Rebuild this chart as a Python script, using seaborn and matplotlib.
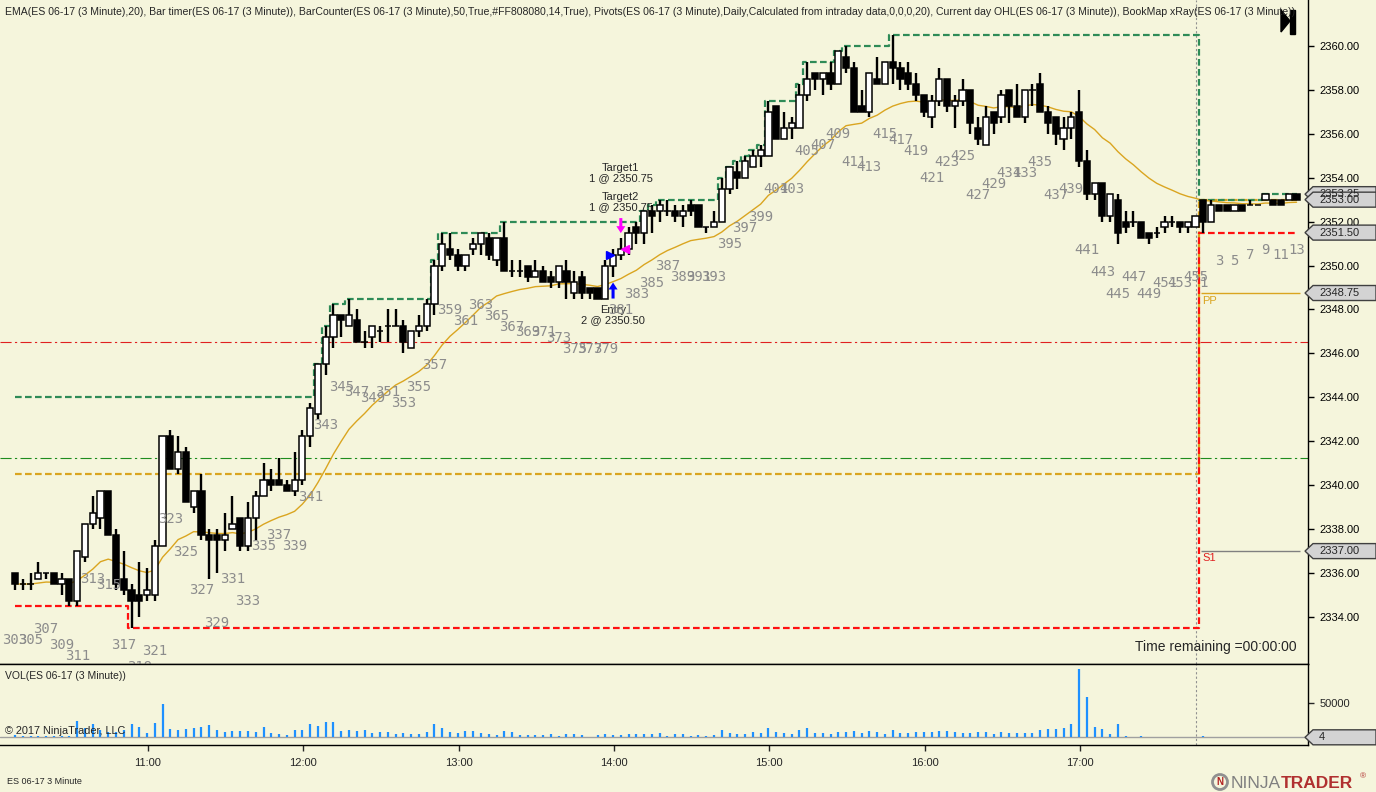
import numpy as np
import pandas as pd
import matplotlib
matplotlib.use("Agg")
import matplotlib.pyplot as plt
from matplotlib.patches import Polygon, Rectangle, Ellipse
import seaborn as sns

# ES 06-17, 3 minute bars: old session bars 303..455, then new session bars 1..13
opens = [
    2336.0, 2335.5, 2335.5, 2335.75, 2336.0, 2336.0, 2335.5, 2335.75, 2334.75, 2336.75,
    2338.25, 2338.5, 2339.75, 2337.75, 2335.75, 2335.25, 2335.0, 2335.0, 2335.0, 2337.25,
    2342.25, 2340.75, 2341.5, 2339.0, 2339.75, 2337.75, 2337.75, 2337.5, 2338.0, 2338.5,
    2337.25, 2338.5, 2339.5, 2340.25, 2340.25, 2340.0, 2339.75, 2340.25, 2342.25, 2343.25,
    2345.5, 2346.75, 2347.75, 2347.25, 2347.5, 2346.5, 2346.75, 2347.0, 2347.25, 2347.25,
    2347.25, 2346.25, 2347.0, 2347.25, 2348.25, 2350.0, 2350.75, 2350.5, 2350.0, 2350.75,
    2351.0, 2351.25, 2350.25, 2351.25, 2349.75, 2349.75, 2350.0, 2349.5, 2349.75, 2349.5,
    2349.25, 2349.75, 2348.75, 2349.5, 2349.0, 2349.0, 2348.5, 2350.0, 2350.5, 2350.75,
    2351.75, 2351.5, 2352.5, 2352.5, 2352.5, 2352.5, 2352.25, 2352.75, 2352.75, 2351.75,
    2351.75, 2352.0, 2353.5, 2354.25, 2354.0, 2354.5, 2355.0, 2355.0, 2357.25, 2355.75,
    2356.25, 2356.25, 2357.75, 2358.75, 2358.5, 2358.75, 2358.25, 2359.5, 2359.0, 2357.25,
    2357.0, 2358.5, 2358.25, 2359.25, 2359.0, 2358.75, 2358.25, 2357.75, 2356.75, 2357.5,
    2358.5, 2357.25, 2357.5, 2358.0, 2356.25, 2355.5, 2357.0, 2356.75, 2358.0, 2357.25,
    2356.75, 2358.0, 2358.25, 2357.0, 2356.75, 2355.75, 2356.25, 2357.0, 2354.75, 2353.25,
    2353.75, 2352.25, 2353.0, 2352.0, 2352.0, 2352.0, 2351.5, 2351.5, 2351.75, 2352.0,
    2352.0, 2351.75, 2351.75, 2353.0, 2352.0, 2352.75, 2352.75, 2352.5, 2352.75, 2352.75,
    2352.75, 2353.0, 2353.0, 2353.0, 2353.0, 2353.25,
]
highs = [
    2336.0, 2335.75, 2336.0, 2336.5, 2336.0, 2336.0, 2336.0, 2335.75, 2337.0, 2338.25,
    2339.5, 2339.75, 2339.75, 2338.0, 2337.0, 2335.5, 2336.5, 2336.25, 2337.5, 2342.25,
    2342.5, 2342.25, 2341.75, 2339.75, 2340.5, 2338.0, 2338.0, 2338.75, 2339.5, 2338.5,
    2339.25, 2339.75, 2341.0, 2340.75, 2341.25, 2340.25, 2341.5, 2342.5, 2343.75, 2345.5,
    2347.25, 2348.25, 2347.75, 2348.5, 2348.0, 2347.0, 2347.25, 2347.25, 2348.0, 2348.0,
    2347.5, 2347.0, 2347.75, 2348.5, 2350.25, 2351.5, 2351.5, 2350.75, 2350.5, 2351.25,
    2351.5, 2351.5, 2351.25, 2352.0, 2350.25, 2350.25, 2350.0, 2350.25, 2350.0, 2349.75,
    2350.0, 2350.25, 2349.75, 2349.75, 2349.0, 2349.0, 2350.25, 2350.75, 2351.25, 2351.75,
    2352.0, 2352.5, 2352.75, 2353.0, 2353.0, 2352.75, 2352.75, 2353.0, 2352.75, 2351.75,
    2352.5, 2354.0, 2354.5, 2354.75, 2355.0, 2355.25, 2355.5, 2357.5, 2357.25, 2357.0,
    2356.75, 2358.25, 2359.25, 2358.75, 2358.75, 2359.25, 2359.75, 2360.0, 2359.25, 2358.0,
    2358.75, 2359.5, 2359.25, 2360.5, 2359.25, 2359.25, 2358.75, 2357.75, 2357.75, 2359.0,
    2358.5, 2357.75, 2358.5, 2358.0, 2356.75, 2357.25, 2357.0, 2358.0, 2358.0, 2358.25,
    2358.0, 2358.25, 2358.75, 2357.25, 2356.75, 2356.75, 2357.0, 2358.0, 2355.25, 2353.75,
    2353.75, 2353.25, 2353.25, 2352.5, 2352.5, 2352.0, 2351.5, 2351.75, 2352.25, 2352.25,
    2352.0, 2352.0, 2352.25, 2353.0, 2353.0, 2352.75, 2352.75, 2352.75, 2352.75, 2353.0,
    2352.75, 2353.25, 2353.0, 2353.0, 2353.25, 2353.25,
]
lows = [
    2335.25, 2335.25, 2335.25, 2335.75, 2335.75, 2335.5, 2335.0, 2334.5, 2334.5, 2336.5,
    2338.0, 2338.0, 2337.75, 2335.25, 2335.0, 2333.5, 2334.0, 2334.75, 2334.75, 2337.25,
    2340.75, 2340.5, 2339.25, 2338.75, 2337.5, 2335.75, 2336.0, 2337.0, 2338.0, 2337.0,
    2337.0, 2337.5, 2339.5, 2339.75, 2340.0, 2339.75, 2339.5, 2340.0, 2341.75, 2343.0,
    2345.0, 2346.25, 2346.75, 2347.25, 2346.5, 2346.25, 2346.25, 2346.5, 2346.5, 2347.25,
    2346.0, 2346.25, 2346.75, 2347.0, 2347.75, 2349.75, 2350.25, 2349.75, 2349.75, 2350.5,
    2350.5, 2350.25, 2350.0, 2349.75, 2349.5, 2349.5, 2349.25, 2349.5, 2349.25, 2349.0,
    2349.0, 2348.5, 2348.5, 2348.5, 2348.5, 2348.5, 2348.5, 2349.5, 2350.25, 2350.5,
    2351.0, 2351.0, 2351.5, 2352.0, 2352.25, 2352.0, 2351.75, 2352.25, 2351.75, 2351.5,
    2351.75, 2352.0, 2353.25, 2353.5, 2354.0, 2354.5, 2354.5, 2355.0, 2355.75, 2355.75,
    2355.75, 2356.25, 2357.5, 2358.0, 2357.75, 2358.0, 2358.25, 2358.75, 2357.0, 2357.0,
    2356.75, 2358.25, 2358.25, 2358.25, 2358.0, 2358.0, 2357.5, 2356.75, 2356.25, 2357.25,
    2357.0, 2356.25, 2357.25, 2356.0, 2355.5, 2355.5, 2356.0, 2356.5, 2356.5, 2356.75,
    2356.5, 2357.25, 2357.0, 2356.0, 2355.5, 2355.25, 2355.75, 2354.5, 2353.0, 2353.0,
    2352.0, 2352.0, 2351.0, 2351.5, 2351.75, 2351.25, 2351.0, 2351.25, 2351.5, 2351.75,
    2351.5, 2351.5, 2351.75, 2351.5, 2352.0, 2352.5, 2352.5, 2352.5, 2352.5, 2352.75,
    2352.75, 2353.0, 2352.75, 2352.75, 2353.0, 2353.0,
]
closes = [
    2335.5, 2335.5, 2335.5, 2336.0, 2336.0, 2335.5, 2335.75, 2334.75, 2337.0, 2338.25,
    2338.75, 2339.75, 2337.75, 2335.5, 2335.25, 2334.75, 2334.75, 2335.25, 2337.25, 2342.25,
    2340.75, 2341.5, 2339.25, 2339.75, 2337.75, 2337.5, 2337.5, 2337.75, 2338.25, 2337.25,
    2338.5, 2339.5, 2340.25, 2340.0, 2340.0, 2339.75, 2340.25, 2342.25, 2343.5, 2345.5,
    2346.75, 2347.75, 2347.5, 2347.75, 2346.5, 2346.5, 2347.25, 2347.0, 2347.25, 2347.25,
    2346.5, 2347.0, 2347.25, 2348.25, 2350.0, 2351.0, 2350.5, 2350.0, 2350.5, 2351.0,
    2351.5, 2350.5, 2351.25, 2349.75, 2349.75, 2349.75, 2349.5, 2349.75, 2349.25, 2349.25,
    2350.0, 2349.25, 2349.25, 2348.75, 2348.75, 2348.5, 2350.0, 2350.5, 2350.75, 2351.5,
    2351.5, 2352.5, 2352.25, 2352.75, 2352.5, 2352.25, 2352.5, 2352.5, 2351.75, 2351.75,
    2352.0, 2353.5, 2354.5, 2354.0, 2354.75, 2355.0, 2355.25, 2357.0, 2355.75, 2356.25,
    2356.5, 2357.75, 2358.5, 2358.5, 2358.75, 2358.25, 2359.75, 2359.0, 2357.0, 2357.0,
    2358.75, 2358.25, 2359.25, 2359.0, 2358.5, 2358.25, 2357.75, 2357.0, 2357.5, 2358.5,
    2357.25, 2357.5, 2358.0, 2356.5, 2355.75, 2356.75, 2356.5, 2357.75, 2357.25, 2356.75,
    2358.0, 2358.0, 2357.0, 2356.5, 2356.0, 2356.25, 2356.75, 2354.75, 2353.25, 2353.75,
    2352.25, 2353.25, 2351.5, 2351.75, 2352.0, 2351.25, 2351.25, 2351.5, 2352.0, 2352.0,
    2351.75, 2352.0, 2352.25, 2352.0, 2352.75, 2352.5, 2352.5, 2352.75, 2352.5, 2352.75,
    2352.75, 2353.25, 2352.75, 2352.75, 2353.25, 2353.0,
]
volumes = [
    2900, 1500, 1500, 2000, 1500, 2000, 2500, 2000, 24000, 13200,
    19600, 10800, 8300, 8300, 10800, 19600, 15700, 6900, 21600, 49000,
    12300, 10800, 12700, 14200, 14700, 18100, 10800, 8300, 9800, 9300,
    9300, 7800, 15200, 6400, 5400, 2900, 10800, 10800, 19600, 16700,
    22500, 22500, 9800, 10800, 8800, 10800, 6900, 7800, 8300, 4900,
    5900, 5400, 4900, 8300, 19600, 13700, 8300, 6900, 9300, 9300,
    6900, 4900, 3900, 9300, 8300, 3900, 3900, 3900, 3900, 4900,
    2000, 4900, 4900, 3900, 1000, 3400, 4900, 3400, 3900, 4900,
    4900, 4900, 4900, 6900, 2000, 4900, 4900, 2500, 3400, 2000,
    3400, 10800, 6900, 4900, 4900, 7800, 6900, 13700, 7800, 6900,
    4900, 10800, 13700, 6900, 6900, 4900, 7800, 7800, 9300, 6900,
    9300, 7800, 4900, 10800, 5900, 6900, 7800, 7800, 7800, 9300,
    9300, 7800, 5900, 6900, 7800, 7800, 4900, 7800, 6900, 6900,
    6900, 6900, 10800, 12700, 12700, 13700, 19600, 100500, 59300, 15200,
    12300, 4900, 19600, 1500, 1000, 1500, 500, 300, 300, 300,
    300, 300, 300, 2000, 500, 100, 100, 100, 100, 100,
    100, 500, 50, 50, 50, 4,
]
bar_numbers = list(range(303, 456)) + list(range(1, 14))
time_labels = ["11:00", "12:00", "13:00", "14:00", "15:00", "16:00", "17:00"]

new_session_start = 153      # index of bar 1 of the new session
prev_day_high = 2344.0       # day high / low / open before the first visible bar
prev_day_low = 2334.5
prev_day_open = 2340.5
pivot_pp = 2348.75
pivot_s1 = 2337.00
level_green = 2341.25
level_red = 2346.50
entry_bar, entry_price, entry_qty = 77, 2350.50, 2
exit_bar, exit_price = 78, 2350.75

o, h, l, c = (np.array(v) for v in (opens, highs, lows, closes))
vol = np.array(volumes)
n = len(o)
idx = np.arange(n)
S = new_session_start

ema = pd.Series(c).ewm(span=20, adjust=False).mean().values
day_high = np.r_[np.maximum.accumulate(np.r_[prev_day_high, h[:S]])[1:], np.maximum.accumulate(h[S:])]
day_low = np.r_[np.minimum.accumulate(np.r_[prev_day_low, l[:S]])[1:], np.minimum.accumulate(l[S:])]
day_open = np.where(idx < S, prev_day_open, o[S])

BG = "#F5F5DC"
W, H = 1376, 792
sns.set_theme(style="white")
plt.rcParams["font.family"] = ["Liberation Sans", "DejaVu Sans"]


def fx(px):
    return px / W


def fy(py):
    return 1 - py / H


fig = plt.figure(figsize=(W / 100, H / 100), dpi=100, facecolor=BG)
ax = fig.add_axes([0, fy(664), fx(1308), 664 / H], facecolor=BG)
axv = fig.add_axes([0, fy(745), fx(1308), 81 / H], facecolor=BG)

bar_px = 7.767
x_lo, x_hi = -15 / bar_px, (1308 - 15) / bar_px
y_lo, y_hi = 2331.86, 2362.09
ppx = (y_hi - y_lo) / 664   # price per pixel

# reference levels
ax.axhline(level_green, color="#1E8C1E", lw=0.8, ls=(0, (10, 3, 2, 3)), zorder=1)
ax.axhline(level_red, color="#E02020", lw=0.8, ls=(0, (10, 3, 2, 3)), zorder=1)

# current day OHL step lines
sns.lineplot(x=idx, y=day_open, ax=ax, color="#DAA520", lw=1.6, ls=(0, (3, 1.5)),
             drawstyle="steps-mid", zorder=2)
sns.lineplot(x=idx, y=day_low, ax=ax, color="#FF1010", lw=1.6, ls=(0, (3, 1.5)),
             drawstyle="steps-mid", zorder=2)
sns.lineplot(x=idx, y=day_high, ax=ax, color="#2E8B57", lw=1.6, ls=(0, (3, 1.5)),
             drawstyle="steps-mid", zorder=2)
sns.lineplot(x=idx, y=ema, ax=ax, color="#DAA520", lw=1.0, zorder=2)

# pivots for the new session
ax.hlines([pivot_pp, pivot_s1], S - 0.3, n - 0.5, colors=["#DAA520", "#808080"], lw=1, zorder=2)
ax.annotate("PP", (S - 0.3, pivot_pp), xytext=(1, -6), textcoords="offset points",
            color="#DAA520", fontsize=8, va="center")
ax.annotate("S1", (S - 0.3, pivot_s1), xytext=(1, -5), textcoords="offset points",
            color="#E02020", fontsize=8, va="center")

# session break
for a in (ax, axv):
    a.axvline(S - 0.9, color="#909090", lw=0.8, ls=(0, (2, 2)), zorder=1)

# candles
ax.vlines(idx, l, h, color="black", lw=1.7, zorder=3)
ax.bar(idx, np.abs(c - o), bottom=np.minimum(o, c), width=0.8,
       color=np.where(c > o, "white", "black"), edgecolor="black", linewidth=1.1, zorder=4)

# bar counter
for i in range(n):
    if bar_numbers[i] % 2 == 1:
        ax.annotate(str(bar_numbers[i]), (i, l[i]), xytext=(0, -36), textcoords="offset points",
                    ha="center", va="center", color="#8C8C8C", fontsize=10,
                    family="DejaVu Sans Mono", clip_on=True, zorder=5)

# trade markers
ax.plot(entry_bar - 0.45, entry_price, marker=">", color="#0000FF", ms=6, zorder=6)
ax.plot(exit_bar + 0.5, exit_price, marker="<", color="#FF00FF", ms=6, zorder=6)
ax.annotate("", xy=(entry_bar, l[entry_bar] - 6 * ppx), xytext=(entry_bar, l[entry_bar] - 22 * ppx),
            arrowprops=dict(arrowstyle="simple,head_length=0.5,head_width=0.65,tail_width=0.22",
                            color="#0000FF", lw=0, shrinkA=0, shrinkB=0, mutation_scale=10))
ax.annotate("", xy=(exit_bar, h[exit_bar] + 5 * ppx), xytext=(exit_bar, h[exit_bar] + 20 * ppx),
            arrowprops=dict(arrowstyle="simple,head_length=0.5,head_width=0.65,tail_width=0.22",
                            color="#FF00FF", lw=0, shrinkA=0, shrinkB=0, mutation_scale=10))
ax.annotate(f"Entry\n{entry_qty} @ {entry_price:.2f}", (entry_bar, l[entry_bar]), xytext=(0, -27.5),
            textcoords="offset points", ha="center", va="center", fontsize=8, linespacing=1.0)
ax.annotate(f"Target2\n1 @ {exit_price:.2f}", (exit_bar, h[exit_bar]), xytext=(0, 26),
            textcoords="offset points", ha="center", va="center", fontsize=8, linespacing=1.0)
ax.annotate(f"Target1\n1 @ {exit_price:.2f}", (exit_bar, h[exit_bar]), xytext=(0, 47),
            textcoords="offset points", ha="center", va="center", fontsize=8, linespacing=1.0)

# volume
axv.vlines(idx, 0, vol, color="#1E90FF", lw=1.6, zorder=3)
axv.axhline(0, color="#A0A0A0", lw=1, zorder=2)


def price_tag(a, yval, label, half):
    tf = a.get_yaxis_transform()
    x0, x1, x2 = 1305 / 1308, 1313 / 1308, 1376 / 1308
    poly = Polygon([[x0, yval], [x1, yval + half], [x2, yval + half], [x2, yval - half], [x1, yval - half]],
                   closed=True, transform=tf, clip_on=False, fc="#D3D3D3", ec="#404040", lw=1, zorder=10)
    a.add_patch(poly)
    a.text(1319 / 1308, yval, label, transform=tf, va="center", ha="left", fontsize=8,
           clip_on=False, zorder=11)


price_tag(ax, pivot_s1, f"{pivot_s1:.2f}", 7.5 * ppx)
price_tag(ax, pivot_pp, f"{pivot_pp:.2f}", 7.5 * ppx)
price_tag(ax, day_low[-1], f"{day_low[-1]:.2f}", 7.5 * ppx)
price_tag(ax, day_high[-1], f"{day_high[-1]:.2f}", 7.5 * ppx)
price_tag(ax, c[-1], f"{c[-1]:.2f}", 7.5 * ppx)

v_lo, v_hi = -11300, 107800
vpx = (v_hi - v_lo) / 81
price_tag(axv, vol[-1], str(vol[-1]), 7.5 * vpx)

# axes cosmetics
ax.set_xlim(x_lo, x_hi)
ax.set_ylim(y_lo, y_hi)
axv.set_xlim(x_lo, x_hi)
axv.set_ylim(v_lo, v_hi)
for a in (ax, axv):
    a.set_xlabel("")
    a.set_ylabel("")
    a.yaxis.tick_right()
    a.spines["left"].set_visible(False)
    for s in ("right", "bottom", "top"):
        a.spines[s].set_color("black")
        a.spines[s].set_linewidth(1)
ax.spines["top"].set_visible(False)
ax.set_xticks([])
ax.set_yticks(np.arange(2334, 2361, 2))
ax.set_yticklabels([f"{v:.2f}" for v in np.arange(2334, 2361, 2)])
ax.tick_params(axis="y", which="both", right=True, direction="out", length=4, width=1,
               labelsize=8, pad=4, colors="black")
axv.set_yticks([50000])
axv.set_yticklabels(["50000"])
axv.tick_params(axis="y", right=True, direction="out", length=4, width=1, labelsize=8, pad=4)
axv.set_xticks([17.12 + 20 * k for k in range(len(time_labels))])
axv.set_xticklabels(time_labels)
axv.tick_params(axis="x", bottom=True, direction="out", length=4, width=1, labelsize=8, pad=5)

# texts
header = ("EMA(ES 06-17 (3 Minute),20), Bar timer(ES 06-17 (3 Minute)), "
          "BarCounter(ES 06-17 (3 Minute),50,True,#FF808080,14,True), "
          "Pivots(ES 06-17 (3 Minute),Daily,Calculated from intraday data,0,0,0,20), "
          "Current day OHL(ES 06-17 (3 Minute)), BookMap xRay(ES 06-17 (3 Minute))")
fig.text(fx(5), fy(12), header, fontsize=7.6, va="center", ha="left")
fig.text(fx(1297), fy(647), "Time remaining =00:00:00", fontsize=10, va="center", ha="right")
fig.text(fx(5), fy(676), "VOL(ES 06-17 (3 Minute))", fontsize=7.5, va="center")
fig.text(fx(5), fy(731), "\u00a9 2017 NinjaTrader, LLC", fontsize=7.8, va="center", zorder=10)
fig.text(fx(7), fy(782), "ES 06-17 3 Minute", fontsize=6.5, va="center")

# go-to-end icon
fig.add_artist(Polygon([[fx(1281), fy(10)], [fx(1281), fy(32)], [fx(1290), fy(21)]],
                       closed=True, transform=fig.transFigure, color="black"))
fig.add_artist(Rectangle((fx(1290), fy(34)), fx(5), 24 / H, transform=fig.transFigure, color="black"))

# logo
fig.add_artist(Ellipse((fx(1220), fy(782)), fx(15), 15 / H, transform=fig.transFigure,
                       fill=False, ec="#909090", lw=2))
fig.text(fx(1220), fy(782), "N", fontsize=7, color="#B22222", ha="center", va="center", weight="bold")
fig.text(fx(1231), fy(783), "NINJA", fontsize=12.5, color="#808080", va="center")
fig.text(fx(1281), fy(783), "TRADER", fontsize=12.5, color="#B03030", va="center", weight="bold")
fig.text(fx(1360), fy(777), "\u00ae", fontsize=6, color="#B03030", va="center")

fig.savefig("out.png", dpi=100, facecolor=BG)
